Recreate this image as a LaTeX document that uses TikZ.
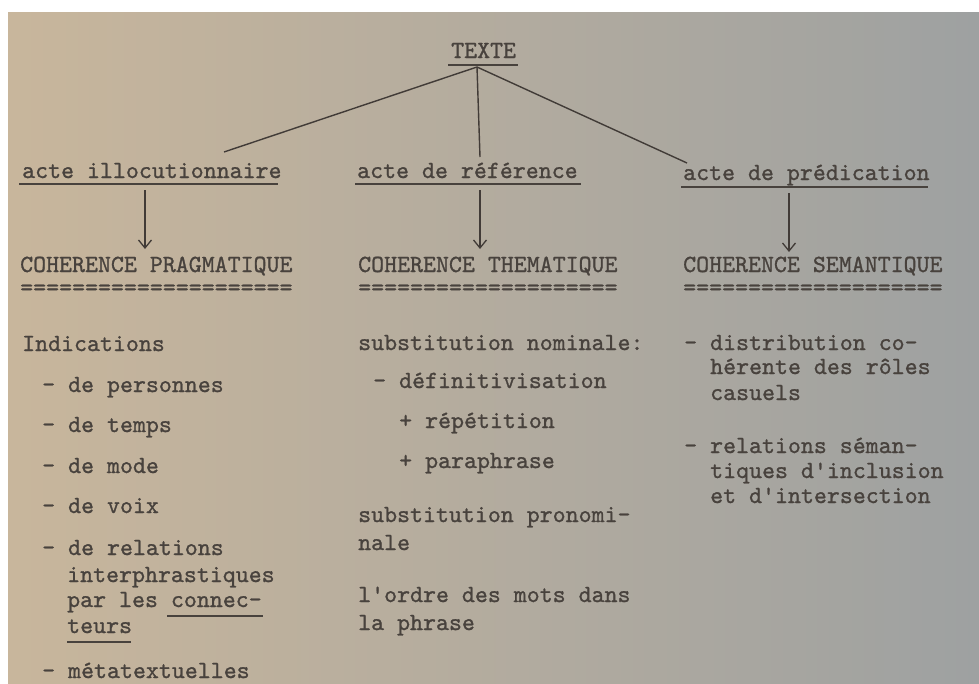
\documentclass[tikz,border=0pt]{standalone}
\usepackage{fontspec}
\usetikzlibrary{arrows.meta}
\newfontfamily\tw{lmmono10-regular}[Extension=.otf, FakeBold=1.0]
\newcommand\sq{\char"0027\relax}
\definecolor{ink}{RGB}{72,66,61}
\definecolor{pleft}{RGB}{200,182,156}
\definecolor{pmid}{RGB}{207,207,200}
\definecolor{pright}{RGB}{158,161,161}
\begin{document}
\begin{tikzpicture}[x=1pt,y=-1pt,
  txt/.style={anchor=base west, inner sep=0pt, text=ink, font=\tw\fontsize{24.7}{25}\selectfont},
  rule/.style={draw=ink, line width=1.3pt},
  branch/.style={draw=ink!90!black, line width=1.4pt},
  arr/.style={draw=ink!90!black, line width=1.3pt, -{Straight Barb[length=8pt,width=13pt,line width=1.3pt]}}]
\fill[white] (0,0) rectangle (979,683);
\shade[left color=pleft, middle color=pmid, right color=pright] (8,12) rectangle (979,683);
\useasboundingbox (0,0) rectangle (979,683);

% top
\node[txt] (texte) at (451,58) {TEXTE};
\draw[rule] (448,65) -- (518,65);
\coordinate (root) at (477,67);

% second level
\node[txt] (ill) at (22,178) {acte illocutionnaire};
\node[txt] (ref) at (357,178) {acte de référence};
\node[txt] (pred) at (683,180) {acte de prédication};
\draw[rule] (19,184) -- (278,184);
\draw[rule] (355,184) -- (581,184);
\draw[rule] (681,187) -- (928,187);

\coordinate (e1) at (224,152);
\coordinate (e2) at (480,157);
\coordinate (e3) at (687,163);
\draw[branch] (root) -- (e1);
\draw[branch] (root) -- (e2);
\draw[branch] (root) -- (e3);

% third level
\node[txt] (coh1) at (20,272) {COHERENCE PRAGMATIQUE};
\node[txt] (coh2) at (358,272) {COHERENCE THEMATIQUE};
\node[txt] (coh3) at (683,272) {COHERENCE SEMANTIQUE};
\node[txt] (eq1) at (20,295) {=====================};
\node[txt] (eq2) at (358,295) {====================};
\node[txt] (eq3) at (683,295) {====================};

\coordinate (a1) at (145,190);
\coordinate (b1) at (145,249);
\coordinate (a2) at (480,190);
\coordinate (b2) at (480,249);
\coordinate (a3) at (789,193);
\coordinate (b3) at (789,252);
\draw[arr] (a1) -- (b1);
\draw[arr] (a2) -- (b2);
\draw[arr] (a3) -- (b3);

% left column
\node[txt] (l0) at (22,351) {Indications};
\node[txt] (l1) at (42,392) {- de personnes};
\node[txt] (l2) at (42,432) {- de temps};
\node[txt] (l3) at (42,473) {- de mode};
\node[txt] (l4) at (42,513) {- de voix};
\node[txt] (l5) at (42,555) {- de relations};
\node[txt] (l6) at (67,582) {interphrastiques};
\node[txt] (l7) at (67,607) {par les connec-};
\node[txt] (l8) at (67,633) {teurs};
\node[txt] (l9) at (42,678) {- métatextuelles};
\draw[rule, line width=1.1pt] (167,616) -- (263,616);
\draw[rule, line width=1.1pt] (67,642) -- (131,642);

% middle column
\node[txt] (m0) at (358,350) {substitution nominale:};
\node[txt] (m1) at (373,388) {- définitivisation};
\node[txt] (m2) at (399,428) {+ répétition};
\node[txt] (m3) at (399,468) {+ paraphrase};
\node[txt] (m4) at (358,522) {substitution pronomi-};
\node[txt] (m5) at (358,550) {nale};
\node[txt] (m6) at (358,602) {l\sq ordre des mots dans};
\node[txt] (m7) at (358,630) {la phrase};

% right column
\node[txt] (r0) at (684,350) {- distribution co-};
\node[txt] (r1) at (710,374) {hérente des rôles};
\node[txt] (r2) at (710,400) {casuels};
\node[txt] (r3) at (684,453) {- relations séman-};
\node[txt] (r4) at (710,478) {tiques d\sq inclusion};
\node[txt] (r5) at (710,503) {et d\sq intersection};
\end{tikzpicture}
\end{document}
